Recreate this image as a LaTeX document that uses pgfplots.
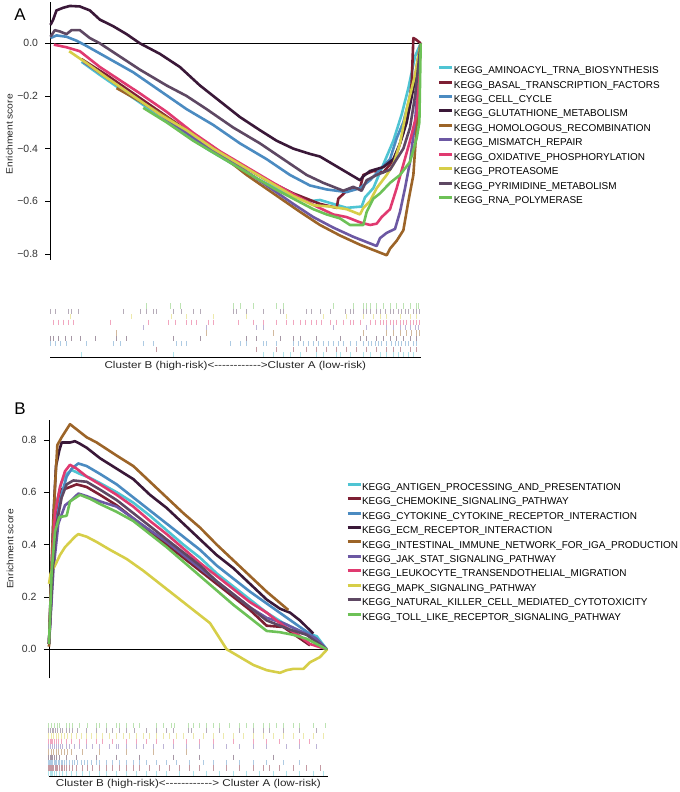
\documentclass[border=0pt]{standalone}
\usepackage{fontspec}
\setmainfont{Liberation Sans}
\newfontfamily\widefont[FakeStretch=1.17]{Liberation Sans}
\newfontfamily\midfont[FakeStretch=1.12]{Liberation Sans}
\usepackage{pgfplots}
\pgfplotsset{compat=1.18}
\definecolor{c1}{HTML}{4FC4D3}
\definecolor{c2}{HTML}{7D1F33}
\definecolor{c3}{HTML}{4B8BC1}
\definecolor{c4}{HTML}{3A1838}
\definecolor{c5}{HTML}{9C6428}
\definecolor{c6}{HTML}{6C58A3}
\definecolor{c7}{HTML}{E03A70}
\definecolor{c8}{HTML}{D6CE48}
\definecolor{c9}{HTML}{5E4863}
\definecolor{c10}{HTML}{6DC157}
\pgfplotsset{
  gsea/.style={
    scale only axis, anchor=south west,
    axis y line*=left, axis x line=none, xtick=\empty,
    tick align=outside, major tick length=5bp,
    ytick style={black, line width=0.6bp},
    y axis line style={black, line width=0.8bp, -},
    yticklabel style={font=\fontsize{10.5}{12}\selectfont, text=black!80, xshift=-4bp},
    ylabel style={font=\midfont\fontsize{9.2}{11}\selectfont, text=black!85, anchor=center},
    clip=false,
    every axis plot/.append style={line width=2.6bp, line join=round},
    legend cell align=left,
    legend style={draw=none, fill=none, anchor=north west, inner sep=0pt, outer sep=0pt,
      font=\fontsize{10}{12}\selectfont, row sep=4.33bp,
      nodes={inner sep=0pt, text height=7.5bp, text depth=2.5bp}},
    legend image code/.code={\draw[#1, line width=3bp] (0bp,3.6bp) -- (13bp,3.6bp);},
  },
  rug/.style={
    scale only axis, anchor=south west,
    axis x line*=bottom, axis y line=none, xtick=\empty, ytick=\empty,
    x axis line style={-, black, line width=1bp},
    ymin=0.5, ymax=10.5, clip=false,
    xlabel style={at={(axis description cs:0.5,0)}, anchor=base, inner sep=0pt,
      font=\widefont\fontsize{10}{12}\selectfont, text=black!85},
    every axis plot/.append style={only marks, mark=|, mark size=2.6bp,
      mark options={line width=0.9bp, opacity=0.45}},
  },
}
\begin{document}
\begin{tikzpicture}
\path[use as bounding box] (0bp,0bp) rectangle (680bp,792bp);
\node[font=\fontsize{17}{20}\selectfont, inner sep=0pt] at (20bp,777.5bp) {A};
\node[font=\fontsize{17}{20}\selectfont, inner sep=0pt] at (20bp,383.7bp) {B};

% ---------------- Panel A main
\begin{axis}[gsea, at={(50.5bp,532bp)}, width=370.2bp, height=258bp,
  xmin=152, xmax=1262, ymin=-0.823, ymax=0.157,
  ytick={-0.8,-0.6,-0.4,-0.2,0}, yticklabels={−0.8,−0.6,−0.4,−0.2,0.0},
  ylabel={Enrichment score},
  ylabel style={at={(axis description cs:-0.111,0.488)}},
  legend style={at={(rel axis cs:1.0467,0.7516)}}]
\addplot[black, line width=0.8bp, forget plot] coordinates {(152,0) (1262,0)};
\addplot[c1] coordinates {(245,-0.07) (300,-0.12) (380,-0.19) (460,-0.26) (540,-0.33) (620,-0.40) (700,-0.46) (780,-0.52) (860,-0.57) (930,-0.60) (960,-0.595) (1000,-0.61) (1040,-0.625) (1085,-0.62) (1095,-0.585) (1120,-0.55) (1150,-0.46) (1180,-0.37) (1205,-0.27) (1225,-0.17) (1245,-0.05) (1262,0.0)};
\addlegendentry{KEGG\_AMINOACYL\_TRNA\_BIOSYNTHESIS}
\addplot[c2] coordinates {(245,-0.06) (320,-0.12) (400,-0.19) (480,-0.26) (560,-0.33) (640,-0.40) (720,-0.46) (800,-0.52) (880,-0.57) (960,-0.61) (1010,-0.625) (1015,-0.59) (1040,-0.56) (1080,-0.55) (1090,-0.50) (1120,-0.485) (1150,-0.49) (1170,-0.46) (1190,-0.42) (1210,-0.34) (1225,-0.25) (1235,-0.15) (1240,0.02) (1247,0.015) (1262,0.0)};
\addlegendentry{KEGG\_BASAL\_TRANSCRIPTION\_FACTORS}
\addplot[c3] coordinates {(152,0.02) (170,0.03) (200,0.025) (230,0.01) (260,-0.01) (330,-0.06) (400,-0.11) (480,-0.18) (560,-0.25) (640,-0.31) (720,-0.38) (800,-0.44) (870,-0.50) (930,-0.54) (980,-0.555) (1040,-0.565) (1080,-0.55) (1110,-0.52) (1140,-0.48) (1170,-0.44) (1190,-0.36) (1210,-0.30) (1230,-0.20) (1250,-0.12) (1262,0.0)};
\addlegendentry{KEGG\_CELL\_CYCLE}
\addplot[c4] coordinates {(152,0.07) (160,0.09) (170,0.125) (190,0.135) (210,0.142) (240,0.14) (270,0.125) (300,0.09) (340,0.065) (380,0.035) (420,0.0) (480,-0.04) (540,-0.09) (600,-0.16) (660,-0.22) (720,-0.28) (780,-0.33) (830,-0.37) (880,-0.40) (930,-0.42) (960,-0.43) (1000,-0.46) (1040,-0.49) (1080,-0.52) (1090,-0.505) (1110,-0.485) (1150,-0.47) (1180,-0.44) (1200,-0.38) (1220,-0.30) (1240,-0.17) (1255,-0.05) (1262,0.0)};
\addlegendentry{KEGG\_GLUTATHIONE\_METABOLISM}
\addplot[c5] coordinates {(350,-0.17) (420,-0.22) (500,-0.28) (580,-0.35) (660,-0.42) (740,-0.50) (820,-0.57) (900,-0.64) (960,-0.69) (1020,-0.73) (1080,-0.765) (1130,-0.79) (1160,-0.805) (1170,-0.78) (1190,-0.75) (1210,-0.71) (1225,-0.60) (1240,-0.50) (1248,-0.35) (1255,-0.15) (1262,0.0)};
\addlegendentry{KEGG\_HOMOLOGOUS\_RECOMBINATION}
\addplot[c6] coordinates {(250,-0.07) (320,-0.13) (400,-0.20) (480,-0.27) (560,-0.34) (640,-0.41) (720,-0.47) (800,-0.54) (880,-0.61) (940,-0.66) (1000,-0.70) (1060,-0.735) (1130,-0.77) (1140,-0.74) (1160,-0.72) (1185,-0.705) (1200,-0.64) (1215,-0.55) (1230,-0.45) (1245,-0.30) (1262,0.0)};
\addlegendentry{KEGG\_MISMATCH\_REPAIR}
\addplot[c7] coordinates {(162,-0.005) (200,-0.015) (240,-0.03) (300,-0.09) (360,-0.14) (420,-0.19) (500,-0.26) (580,-0.34) (660,-0.41) (740,-0.47) (820,-0.53) (890,-0.58) (950,-0.62) (1000,-0.65) (1040,-0.66) (1080,-0.68) (1110,-0.69) (1130,-0.685) (1145,-0.66) (1170,-0.63) (1190,-0.55) (1210,-0.46) (1230,-0.37) (1250,-0.27) (1262,0.0)};
\addlegendentry{KEGG\_OXIDATIVE\_PHOSPHORYLATION}
\addplot[c8] coordinates {(208,-0.03) (260,-0.075) (320,-0.13) (400,-0.20) (480,-0.27) (560,-0.33) (640,-0.40) (720,-0.46) (800,-0.52) (880,-0.58) (940,-0.615) (990,-0.62) (1040,-0.63) (1080,-0.65) (1090,-0.625) (1110,-0.60) (1130,-0.55) (1160,-0.50) (1180,-0.46) (1200,-0.38) (1220,-0.25) (1245,-0.12) (1262,0.0)};
\addlegendentry{KEGG\_PROTEASOME}
\addplot[c9] coordinates {(152,0.025) (165,0.05) (180,0.045) (200,0.035) (215,0.05) (240,0.05) (270,0.02) (300,0.0) (360,-0.05) (420,-0.10) (500,-0.16) (560,-0.20) (620,-0.25) (700,-0.32) (780,-0.38) (850,-0.44) (920,-0.50) (970,-0.53) (1030,-0.56) (1060,-0.545) (1085,-0.56) (1100,-0.52) (1130,-0.50) (1170,-0.48) (1190,-0.44) (1210,-0.40) (1230,-0.32) (1245,-0.20) (1262,0.0)};
\addlegendentry{KEGG\_PYRIMIDINE\_METABOLISM}
\addplot[c10] coordinates {(430,-0.245) (500,-0.30) (580,-0.37) (660,-0.43) (740,-0.49) (820,-0.55) (880,-0.59) (940,-0.63) (980,-0.65) (1020,-0.665) (1050,-0.69) (1090,-0.69) (1100,-0.64) (1120,-0.59) (1140,-0.57) (1170,-0.53) (1200,-0.50) (1230,-0.45) (1250,-0.36) (1258,-0.30) (1262,0.0)};
\addlegendentry{KEGG\_RNA\_POLYMERASE}
\end{axis}

% ---------------- Panel A rug
\begin{axis}[rug, at={(50bp,434.7bp)}, width=370.7bp, height=54bp, xmin=150, xmax=1262,
  xlabel={Cluster B (high-risk)<-{}-{}-{}-{}-{}-{}-{}-{}-{}-{}-{}->Cluster A (low-risk)},
  xlabel style={yshift=-11.6bp}]
\addplot[c1] coordinates {(245,1)(520,1)(790,1)(820,1)(850,1)(870,1)(900,1)(950,1)(970,1)(1010,1)(1020,1)(1050,1)(1090,1)(1110,1)(1140,1)(1160,1)(1180,1)(1195,1)(1210,1)(1225,1)(1240,1)};
\addplot[c2] coordinates {(470,2)(770,2)(830,2)(880,2)(920,2)(950,2)(980,2)(1010,2)(1040,2)(1070,2)(1100,2)(1130,2)(1160,2)(1180,2)(1200,2)(1230,2)(1250,2)};
\addplot[c3] coordinates {(150,3)(165,3)(180,3)(200,3)(260,3)(340,3)(360,3)(430,3)(460,3)(530,3)(545,3)(560,3)(690,3)(720,3)(740,3)(790,3)(800,3)(830,3)(880,3)(895,3)(910,3)(925,3)(940,3)(955,3)(970,3)(985,3)(1000,3)(1015,3)(1030,3)(1050,3)(1070,3)(1090,3)(1105,3)(1115,3)(1125,3)(1135,3)(1145,3)(1160,3)(1175,3)(1185,3)(1195,3)(1205,3)(1215,3)(1225,3)(1240,3)(1250,3)};
\addplot[c4] coordinates {(150,4)(160,4)(175,4)(195,4)(215,4)(240,4)(285,4)(350,4)(380,4)(520,4)(600,4)(740,4)(770,4)(840,4)(880,4)(900,4)(950,4)(1020,4)(1080,4)(1100,4)(1130,4)(1150,4)(1170,4)(1190,4)(1210,4)(1230,4)(1250,4)};
\addplot[c5] coordinates {(350,5)(620,5)(820,5)(1090,5)(1160,5)(1180,5)(1200,5)(1220,5)(1235,5)(1250,5)(1258,5)};
\addplot[c6] coordinates {(430,6)(620,6)(770,6)(790,6)(1000,6)(1100,6)(1160,6)(1180,6)(1200,6)(1215,6)(1230,6)(1245,6)(1255,6)};
\addplot[c7] coordinates {(160,7)(175,7)(190,7)(205,7)(220,7)(330,7)(445,7)(505,7)(525,7)(560,7)(575,7)(590,7)(625,7)(640,7)(715,7)(760,7)(790,7)(830,7)(860,7)(880,7)(900,7)(915,7)(935,7)(950,7)(965,7)(990,7)(1010,7)(1030,7)(1050,7)(1060,7)(1080,7)(1110,7)(1125,7)(1140,7)(1150,7)(1160,7)(1170,7)(1180,7)(1190,7)(1200,7)(1210,7)(1220,7)(1230,7)(1240,7)(1250,7)(1258,7)};
\addplot[c8] coordinates {(210,8)(395,8)(515,8)(560,8)(640,8)(740,8)(860,8)(970,8)(1040,8)(1090,8)(1120,8)(1140,8)(1160,8)(1200,8)(1230,8)(1250,8)};
\addplot[c9] coordinates {(150,9)(165,9)(205,9)(215,9)(235,9)(370,9)(420,9)(440,9)(460,9)(470,9)(520,9)(545,9)(580,9)(600,9)(700,9)(710,9)(740,9)(790,9)(840,9)(850,9)(920,9)(935,9)(960,9)(990,9)(1035,9)(1050,9)(1060,9)(1090,9)(1100,9)(1110,9)(1130,9)(1140,9)(1155,9)(1170,9)(1180,9)(1195,9)(1205,9)(1215,9)(1225,9)(1240,9)(1250,9)(1258,9)};
\addplot[c10] coordinates {(440,10)(510,10)(540,10)(700,10)(720,10)(760,10)(830,10)(850,10)(1000,10)(1060,10)(1090,10)(1100,10)(1110,10)(1130,10)(1150,10)(1170,10)(1190,10)(1210,10)(1230,10)(1250,10)(1255,10)};
\end{axis}

% ---------------- Panel B main
\begin{axis}[gsea, at={(49bp,113.7bp)}, width=279.3bp, height=258.3bp,
  xmin=147, xmax=985, ymin=-0.111, ymax=0.876,
  ytick={0,0.2,0.4,0.6,0.8}, yticklabels={0.0,0.2,0.4,0.6,0.8},
  ylabel={Enrichment score},
  ylabel style={at={(axis description cs:-0.1396,0.5006)}},
  legend style={at={(rel axis cs:1.0634,0.757)}}]
\addplot[black, line width=0.8bp, forget plot] coordinates {(147,0) (985,0)};
\addplot[c1] coordinates {(147,0.02) (155,0.28) (168,0.55) (185,0.64) (200,0.67) (215,0.685) (240,0.67) (270,0.655) (300,0.635) (350,0.60) (400,0.56) (450,0.51) (500,0.455) (550,0.40) (600,0.35) (650,0.29) (700,0.24) (750,0.19) (800,0.14) (850,0.10) (900,0.07) (950,0.05) (980,0.0)};
\addlegendentry{KEGG\_ANTIGEN\_PROCESSING\_AND\_PRESENTATION}
\addplot[c2] coordinates {(147,0.02) (160,0.35) (170,0.52) (180,0.61) (200,0.615) (230,0.63) (260,0.62) (300,0.59) (350,0.55) (400,0.50) (450,0.45) (500,0.40) (550,0.35) (600,0.30) (650,0.25) (700,0.20) (750,0.15) (800,0.09) (850,0.085) (890,0.05) (930,0.015)};
\addlegendentry{KEGG\_CHEMOKINE\_SIGNALING\_PATHWAY}
\addplot[c3] coordinates {(147,0.02) (155,0.25) (165,0.45) (180,0.57) (200,0.66) (215,0.69) (235,0.71) (260,0.70) (300,0.67) (350,0.63) (400,0.58) (450,0.53) (500,0.48) (550,0.43) (600,0.38) (650,0.32) (700,0.27) (750,0.22) (800,0.175) (850,0.13) (900,0.085) (940,0.05) (980,0.0)};
\addlegendentry{KEGG\_CYTOKINE\_CYTOKINE\_RECEPTOR\_INTERACTION}
\addplot[c4] coordinates {(147,0.02) (153,0.25) (160,0.50) (168,0.70) (178,0.76) (185,0.79) (210,0.79) (225,0.795) (240,0.785) (260,0.77) (300,0.73) (350,0.69) (400,0.65) (450,0.59) (500,0.54) (550,0.48) (600,0.42) (650,0.36) (700,0.31) (750,0.25) (800,0.19) (840,0.155) (870,0.14) (900,0.11) (940,0.06)};
\addlegendentry{KEGG\_ECM\_RECEPTOR\_INTERACTION}
\addplot[c5] coordinates {(147,0.01) (152,0.2) (158,0.42) (165,0.62) (172,0.78) (185,0.81) (200,0.84) (210,0.86) (230,0.84) (260,0.81) (290,0.79) (350,0.74) (400,0.70) (450,0.64) (500,0.58) (550,0.52) (600,0.465) (650,0.40) (700,0.34) (750,0.28) (800,0.22) (865,0.15)};
\addlegendentry{KEGG\_INTESTINAL\_IMMUNE\_NETWORK\_FOR\_IGA\_PRODUCTION}
\addplot[c6] coordinates {(147,0.02) (160,0.3) (175,0.48) (195,0.55) (215,0.57) (235,0.595) (260,0.585) (300,0.565) (350,0.545) (400,0.50) (450,0.455) (500,0.41) (550,0.36) (600,0.31) (650,0.26) (700,0.21) (750,0.16) (800,0.12) (850,0.10) (900,0.07) (950,0.04) (980,0.0)};
\addlegendentry{KEGG\_JAK\_STAT\_SIGNALING\_PATHWAY}
\addplot[c7] coordinates {(147,0.02) (155,0.3) (165,0.52) (180,0.62) (195,0.68) (210,0.705) (230,0.69) (260,0.66) (300,0.63) (350,0.59) (400,0.545) (450,0.49) (500,0.44) (550,0.385) (600,0.33) (650,0.28) (700,0.23) (750,0.18) (800,0.14) (850,0.09) (900,0.05) (930,0.02) (980,0.0)};
\addlegendentry{KEGG\_LEUKOCYTE\_TRANSENDOTHELIAL\_MIGRATION}
\addplot[c8] coordinates {(147,0.25) (152,0.29) (165,0.32) (180,0.36) (195,0.39) (210,0.41) (225,0.43) (235,0.44) (260,0.43) (290,0.41) (330,0.38) (380,0.345) (430,0.30) (480,0.25) (530,0.20) (580,0.15) (630,0.10) (680,0.0) (720,-0.03) (760,-0.06) (800,-0.08) (840,-0.09) (860,-0.08) (880,-0.075) (910,-0.075) (930,-0.05) (960,-0.03) (982,0.0)};
\addlegendentry{KEGG\_MAPK\_SIGNALING\_PATHWAY}
\addplot[c9] coordinates {(147,0.02) (158,0.3) (170,0.48) (185,0.58) (200,0.63) (220,0.645) (260,0.64) (300,0.61) (350,0.57) (400,0.52) (450,0.47) (500,0.42) (550,0.37) (600,0.32) (650,0.26) (700,0.21) (750,0.16) (800,0.11) (870,0.075) (920,0.055) (980,0.0)};
\addlegendentry{KEGG\_NATURAL\_KILLER\_CELL\_MEDIATED\_CYTOTOXICITY}
\addplot[c10] coordinates {(147,0.02) (155,0.3) (165,0.45) (178,0.505) (200,0.51) (210,0.565) (240,0.59) (270,0.575) (300,0.555) (350,0.525) (400,0.49) (450,0.44) (500,0.39) (550,0.335) (600,0.28) (650,0.225) (700,0.17) (750,0.12) (800,0.07) (840,0.065) (880,0.055) (920,0.04) (980,0.0)};
\addlegendentry{KEGG\_TOLL\_LIKE\_RECEPTOR\_SIGNALING\_PATHWAY}
\end{axis}

% ---------------- Panel B rug
\begin{axis}[rug, at={(48.5bp,16bp)}, width=279.8bp, height=53.3bp, xmin=147, xmax=985,
  xlabel={Cluster B (high-risk)<-{}-{}-{}-{}-{}-{}-{}-{}-{}-{}-{}-> Cluster A (low-risk)},
  xlabel style={yshift=-10.9bp}]
\addplot[c1] coordinates {(148,1)(152,1)(156,1)(160,1)(166,1)(172,1)(180,1)(190,1)(200,1)(215,1)(230,1)(250,1)(270,1)(300,1)(320,1)(350,1)(380,1)(410,1)(440,1)(470,1)(500,1)(540,1)(580,1)(620,1)(660,1)(700,1)(740,1)(780,1)(820,1)(860,1)(900,1)(940,1)(970,1)};
\addplot[c2] coordinates {(148,2)(151,2)(154,2)(157,2)(160,2)(163,2)(167,2)(171,2)(175,2)(180,2)(185,2)(190,2)(196,2)(202,2)(210,2)(220,2)(230,2)(250,2)(265,2)(280,2)(300,2)(320,2)(340,2)(360,2)(380,2)(400,2)(420,2)(450,2)(480,2)(510,2)(540,2)(570,2)(600,2)(640,2)(680,2)(720,2)(760,2)(790,2)(810,2)(840,2)(880,2)(920,2)(960,2)};
\addplot[c3] coordinates {(148,3)(151,3)(154,3)(157,3)(160,3)(164,3)(168,3)(172,3)(176,3)(180,3)(185,3)(190,3)(196,3)(202,3)(210,3)(218,3)(226,3)(235,3)(245,3)(255,3)(265,3)(275,3)(290,3)(300,3)(320,3)(340,3)(360,3)(380,3)(400,3)(420,3)(440,3)(470,3)(500,3)(530,3)(570,3)(610,3)(640,3)(680,3)(720,3)(760,3)(800,3)(850,3)(900,3)};
\addplot[c4] coordinates {(148,4)(152,4)(156,4)(160,4)(165,4)(170,4)(180,4)(200,4)(230,4)(290,4)(350,4)(420,4)(520,4)(600,4)(700,4)(820,4)};
\addplot[c5] coordinates {(148,5)(155,5)(162,5)(170,5)(178,5)(185,5)(195,5)(205,5)(215,5)(250,5)(300,5)(380,5)(460,5)(560,5)};
\addplot[c6] coordinates {(148,6)(153,6)(158,6)(164,6)(170,6)(176,6)(182,6)(190,6)(200,6)(210,6)(225,6)(240,6)(260,6)(280,6)(300,6)(330,6)(350,6)(355,6)(380,6)(410,6)(430,6)(460,6)(490,6)(520,6)(560,6)(600,6)(640,6)(680,6)(720,6)(760,6)(800,6)(860,6)(900,6)(950,6)};
\addplot[c7] coordinates {(148,7)(152,7)(156,7)(160,7)(165,7)(170,7)(178,7)(185,7)(200,7)(215,7)(240,7)(260,7)(290,7)(310,7)(340,7)(380,7)(410,7)(440,7)(470,7)(520,7)(560,7)(600,7)(640,7)(700,7)(760,7)(800,7)(840,7)(900,7)(930,7)};
\addplot[c8] coordinates {(148,8)(155,8)(162,8)(170,8)(178,8)(186,8)(195,8)(205,8)(215,8)(230,8)(245,8)(260,8)(275,8)(290,8)(310,8)(330,8)(350,8)(370,8)(390,8)(410,8)(430,8)(450,8)(470,8)(490,8)(510,8)(530,8)(550,8)(580,8)(610,8)(640,8)(670,8)(700,8)(730,8)(760,8)(790,8)(820,8)(850,8)(880,8)(910,8)(940,8)(970,8)};
\addplot[c9] coordinates {(148,9)(152,9)(158,9)(163,9)(168,9)(175,9)(182,9)(190,9)(200,9)(210,9)(220,9)(235,9)(260,9)(290,9)(320,9)(340,9)(360,9)(380,9)(405,9)(440,9)(470,9)(500,9)(520,9)(565,9)(575,9)(620,9)(660,9)(720,9)(760,9)(790,9)(810,9)(850,9)(900,9)(950,9)};
\addplot[c10] coordinates {(148,10)(155,10)(165,10)(175,10)(180,10)(200,10)(210,10)(220,10)(240,10)(265,10)(290,10)(300,10)(320,10)(350,10)(360,10)(380,10)(400,10)(420,10)(470,10)(490,10)(515,10)(525,10)(565,10)(580,10)(600,10)(620,10)(640,10)(660,10)(690,10)(720,10)(740,10)(760,10)(790,10)(810,10)(830,10)(850,10)(880,10)(900,10)(940,10)(975,10)};
\end{axis}
\end{tikzpicture}
\end{document}
